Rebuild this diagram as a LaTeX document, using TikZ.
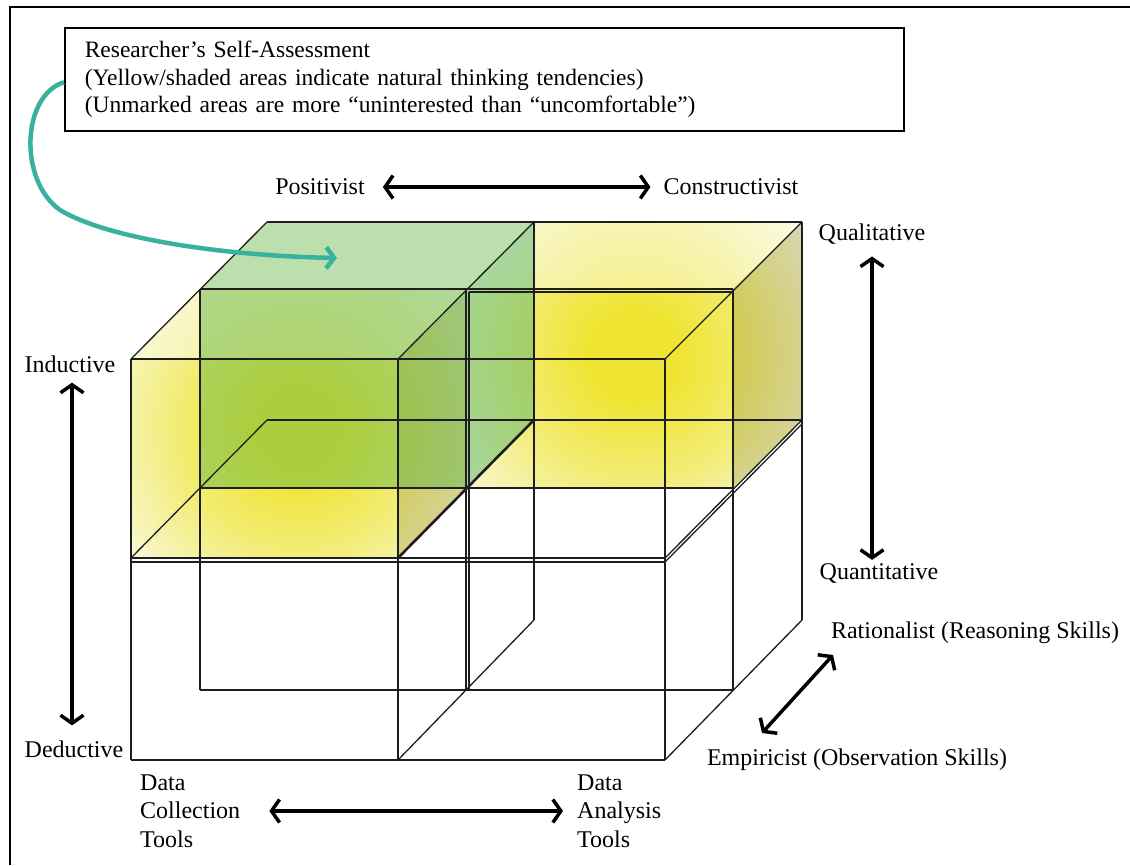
\documentclass[tikz,border=0pt]{standalone}
\usepackage{fontspec}
\setmainfont{Liberation Serif}
\usetikzlibrary{arrows.meta}
\definecolor{ycore}{RGB}{240,228,50}
\definecolor{ymid}{RGB}{242,236,115}
\definecolor{ylight}{RGB}{247,245,190}
\definecolor{gface}{RGB}{105,185,75}
\definecolor{gside}{RGB}{70,175,105}
\definecolor{tealarrow}{RGB}{56,178,158}
\definecolor{edgecol}{RGB}{30,30,30}
\pgfdeclareradialshading{yglow}{\pgfpoint{0bp}{0bp}}{color(0bp)=(ycore); color(4.5bp)=(ycore); color(12bp)=(ymid); color(19bp)=(ylight); color(25bp)=(white); color(50bp)=(white)}
\tikzset{
  lbl/.style={font=\fontsize{24}{28.5}\selectfont, inner sep=0pt, text=black},
  edge/.style={draw=edgecol, line width=1.3pt},
  thickedge/.style={draw=edgecol, line width=2.6pt},
  dblarrow/.style={line width=3.5pt, {Straight Barb[length=8pt,width=23pt]}-{Straight Barb[length=8pt,width=23pt]}},
  tealcurve/.style={draw=tealarrow, line width=4.5pt, -{Straight Barb[length=8pt,width=21pt]}}
}
\begin{document}
\begin{tikzpicture}[x=1pt,y=-1pt]
\useasboundingbox (0,0) rectangle (1130,865);
\fill[white] (0,0) rectangle (1130,865);

% outer frame
\draw[line width=2pt] (10,865) -- (10,7) -- (1130,7);

% ---- Box A (top, left, front): yellow glow
\begin{scope}
\clip (131,359) -- (200,289) -- (466,289) -- (466,488) -- (398,558) -- (131,558) -- cycle;
\shade[shading=yglow] (298,428) circle (250pt);
\end{scope}
\fill[white, opacity=0.42] (131,359) -- (200,289) -- (466,289) -- (398,359) -- cycle;
\fill[black, opacity=0.13] (398,359) -- (466,289) -- (466,488) -- (398,558) -- cycle;

% ---- Box D (top, right, back): yellow glow
\begin{scope}
\clip (466,289) -- (534,222) -- (802,222) -- (802,420) -- (733,488) -- (466,488) -- cycle;
\shade[shading=yglow] (634,355) circle (255pt);
\end{scope}
\fill[white, opacity=0.42] (466,289) -- (534,222) -- (802,222) -- (733,289) -- cycle;
\fill[black, opacity=0.13] (733,289) -- (802,222) -- (802,420) -- (733,488) -- cycle;

% ---- Box B (top, left, back): green
\fill[gface, opacity=0.45] (200,289) -- (267,222) -- (534,222) -- (466,289) -- cycle;
\fill[gface, opacity=0.5] (200,289) rectangle (466,488);
\fill[gside, opacity=0.45] (466,289) -- (534,222) -- (534,420) -- (466,488) -- cycle;

% ---- wireframe
\draw[edge] (267,222) -- (802,222);
\draw[edge] (200,289) -- (733,289);
\draw[edge] (469,292) -- (733,292);
\draw[edge] (131,359) -- (665,359);
\draw[edge] (131,359) -- (267,222);
\draw[edge] (398,359) -- (534,222);
\draw[edge] (665,359) -- (802,222);
\draw[edge] (131,359) -- (131,760);
\draw[edge] (398,359) -- (398,558);
\draw[edge, line width=2pt] (398,558) -- (398,760);
\draw[edge] (665,359) -- (665,760);
\draw[edge] (200,289) -- (200,690);
\draw[edge] (466,289) -- (466,690);
\draw[edge] (469,292) -- (469,690);
\draw[edge, line width=1.7pt] (733,289) -- (733,690);
\draw[edge] (534,222) -- (534,620);
\draw[edge] (802,222) -- (802,620);
\draw[edge] (267,420) -- (802,420);
\draw[thickedge] (200,488) -- (733,488);
\draw[edge] (131,558) -- (665,558);
\draw[edge] (131,562) -- (665,562);
\draw[edge] (131,558) -- (267,420);
\draw[thickedge] (398,558) -- (534,420);
\draw[edge] (665,558) -- (802,420);
\draw[edge] (665,562) -- (802,424);
\draw[edge] (200,690) -- (733,690);
\draw[edge] (131,760) -- (665,760);
\draw[edge] (398,760) -- (534,620);
\draw[edge] (665,760) -- (802,620);

% ---- legend
\node[draw, line width=1.5pt, anchor=north west, minimum width=839pt, minimum height=103pt,
      text width=799pt, inner xsep=20pt, inner ysep=0pt, align=left,
      font=\fontsize{23.5}{27.5}\selectfont] (legend) at (64,27)
  {Researcher’s Self-Assessment\\(Yellow/shaded areas indicate natural thinking tendencies)\\(Unmarked areas are more “uninterested than “uncomfortable”)};

% ---- labels
\node[lbl] (pos) at (320,187) {Positivist};
\node[lbl] (con) at (731,187) {Constructivist};
\node[lbl] (qual) at (872,234) {Qualitative};
\node[lbl] (quan) at (879,573) {Quantitative};
\node[lbl] (ind) at (70,364) {Inductive};
\node[lbl] (ded) at (74,749) {Deductive};
\node[lbl] (rat) at (975,633) {Rationalist (Reasoning Skills)};
\node[lbl] (emp) at (857,760) {Empiricist (Observation Skills)};
\node[lbl, align=left, anchor=west] (dct) at (140,811) {Data\\Collection\\Tools};
\node[lbl, align=left, anchor=west] (dat) at (577,811) {Data\\Analysis\\Tools};
\coordinate (etip) at (762,733);
\coordinate (rtip) at (833,655);

% ---- arrows
\draw[dblarrow, shorten <=18pt, shorten >=13pt] (pos.east) -- (con.west);
\draw[dblarrow, shorten <=12pt, shorten >=3pt] (qual.south) -- (qual.south |- quan.north);
\draw[dblarrow, shorten <=10pt, shorten >=15pt] ([xshift=2pt]ind.south) -- ([xshift=2pt]ind.south |- ded.north);
\draw[dblarrow, shorten <=29pt, shorten >=14pt] (dct.east) -- (dat.west);
\draw[dblarrow] (etip) -- (rtip);

% ---- teal pointer
\draw[tealcurve] ([yshift=-3pt]legend.west) .. controls (22,95) and (18,180) .. (60,210)
  .. controls (110,240) and (230,256) .. (337,258);
\end{tikzpicture}
\end{document}
